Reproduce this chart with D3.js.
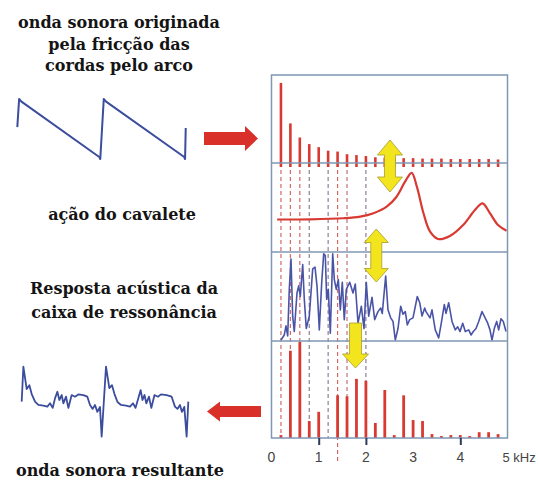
<!DOCTYPE html>
<html>
<head>
<meta charset="utf-8">
<script src="https://cdn.jsdelivr.net/npm/d3@7"></script>
<style>
  html, body { margin: 0; padding: 0; background: #fff; }
  svg { display: block; }
</style>
</head>
<body>
<svg id="chart" width="538" height="490"></svg>
<script>
// Harmonic frequencies of the bowed string (kHz), fundamental at 200 Hz
const harmonicKHz = [0.2, 0.4, 0.6, 0.8, 1.0, 1.2, 1.4, 1.6, 1.8, 2.0, 2.2, 2.4,
                     2.6, 2.8, 3.0, 3.2, 3.4, 3.6, 3.8, 4.0, 4.2, 4.4, 4.6, 4.8];

// Spectrum of the string force (relative amplitude, %)
const stringSpectrum = [91, 45, 29, 21.5, 18, 14, 13, 10, 9, 8, 6.5, 6,
                        5.5, 5.5, 5.5, 5, 5, 5, 4.5, 4.5, 4.5, 4.5, 4.5, 4];

// Bridge response (frequency kHz, relative level %)
const bridgeKHz   = [0.12, 0.82, 1.52, 1.88, 2.16, 2.44, 2.65, 2.83, 2.97, 3.08,
                     3.22, 3.36, 3.53, 3.78, 4.06, 4.31, 4.47, 4.63, 4.80, 4.98];
const bridgeLevel = [36.5, 36.7, 37.9, 39.7, 43.5, 50.9, 62.1, 79, 89, 73.4,
                     43.5, 22.8, 14.6, 18, 30.3, 47.2, 54.7, 43.5, 30.3, 23.9];

// Acoustic response of the sound box (frequency kHz, relative level %)
const bodyKHz = [0.201, 0.271, 0.307, 0.343, 0.377, 0.413, 0.449, 0.483, 0.540, 0.576,
                 0.610, 0.661, 0.695, 0.737, 0.801, 0.873, 0.922, 0.964, 1.013, 1.064,
                 1.106, 1.140, 1.169, 1.203, 1.246, 1.297, 1.331, 1.373, 1.415, 1.458,
                 1.500, 1.542, 1.585, 1.657, 1.727, 1.775, 1.833, 1.903, 1.960, 2.008,
                 2.059, 2.129, 2.186, 2.256, 2.314, 2.347, 2.419, 2.468, 2.525, 2.574,
                 2.623, 2.680, 2.737, 2.786, 2.835, 2.877, 2.928, 2.998, 3.089, 3.140,
                 3.189, 3.246, 3.273, 3.358, 3.400, 3.470, 3.542, 3.591, 3.661, 3.697,
                 3.754, 3.824, 3.894, 3.945, 3.994, 4.051, 4.106, 4.178, 4.227, 4.275,
                 4.333, 4.390, 4.460, 4.508, 4.581, 4.629, 4.672, 4.720, 4.771, 4.813,
                 4.862, 4.911, 4.968];
const bodyLevel = [1.1, 6.8, 17, 5.7, 58, 92, 27.6, 10.6, 54, 62,
                   50, 86, 47, 14, 28, 81, 83, 62, 12.5, 66,
                   98, 96, 47, 58, 8.8, 98, 69, 58, 69, 35,
                   66, 24, 58, 66, 54, 64, 20, 39, 14, 66,
                   28, 49, 24, 33, 37, 31, 73, 35, 26, 22,
                   1, 14, 39, 30, 33, 18, 24, 26, 50, 43,
                   28, 37, 33, 26, 35, 12.5, 3.4, 18, 41, 31,
                   43, 22, 12.5, 16, 10.6, 20, 10.6, 12.5, 6.8, 10.6,
                   14, 22, 33, 28, 20, 12.5, 1, 14, 22, 12.5,
                   25, 22, 10.6];

// Spectrum of the radiated sound (relative amplitude, %)
const outputSpectrum = [3, 90, 99, 17.5, 27, 0, 44, 43, 61, 59, 15.5, 49.5,
                        3, 44, 18.5, 17.5, 4, 2, 3, 3, 2, 6, 6, 4];

// Harmonics marked with dashed guide lines, and their colours
const guideKHz   = [0.2, 0.4, 0.6, 0.8, 1.2, 1.4, 1.6, 2.0];
const guideColor = ["#d0504a", "#d0504a", "#d0504a", "#7d6a86", "#7d6a86", "#d0504a", "#b0606a", "#7d6a86"];

// Frequency axis labels and tick marks
const tickKHz = [0, 1, 2, 3, 4, 5];
const tickText = ["0", "1", "2", "3", "4", "5 kHz"];
const tickMarkKHz = [1, 2, 4];

// Bowed string wave: time (ms), normalised displacement
const sawTime = [0, 0.11, 0.25, 4.92, 4.98, 5.19, 5.33, 10.02, 10.07, 10.11];
const sawAmp  = [0.03, 1.0, 0.91, -1.0, -1.07, 1.0, 0.91, -1.0, -1.07, 0];

// Resulting sound wave: time (ms), normalised pressure
const outTime = [0, 0.10, 0.30, 0.46, 0.60, 0.80, 1.00, 1.30, 1.54, 1.70,
                 1.86, 2.00, 2.14, 2.26, 2.40, 2.50, 2.66, 2.80, 3.00, 3.20,
                 3.40, 3.70, 3.94, 4.10, 4.26, 4.40, 4.54, 4.70, 4.80,
                 5.06, 5.26, 5.42, 5.57, 5.75, 5.96, 6.26, 6.50, 6.68, 6.83,
                 7.00, 7.14, 7.25, 7.37, 7.48, 7.64, 7.78, 7.97, 8.18, 8.36,
                 8.70, 9.00, 9.20, 9.35, 9.50, 9.62, 9.76, 9.90, 10.00];
const outAmp  = [-0.05, 1.01, 0.33, 0.45, 0.18, -0.05, -0.15, -0.17, -0.20, -0.10,
                 -0.24, 0.05, 0.25, 0, 0.15, -0.10, 0.10, -0.24, 0.15, 0.10,
                 0.17, 0.15, 0.10, -0.15, -0.27, -0.15, -0.36, -0.21, -1.11,
                 1.01, 0.36, 0.45, 0.18, -0.06, -0.15, -0.17, -0.20, -0.10, -0.24,
                 0.05, 0.30, 0, 0.15, -0.10, 0.10, -0.24, 0.15, 0.10, 0.17,
                 0.15, 0.10, -0.20, -0.27, -0.15, -0.36, -0.21, -1.11, -0.05];

const svg = d3.select("#chart");

// ---------- frequency panels ----------
const frame = { left: 271.5, right: 507.5, top: 75, bottom: 438 };
const x = d3.scaleLinear().domain([0, 5]).range([frame.left, frame.right]);
const panelEdges = [75, 163, 252, 341, 438];
const yPanel = panelEdges.slice(0, 4).map((top, i) =>
  d3.scaleLinear().domain([0, 100]).range([panelEdges[i + 1], top]));

const boxColor = "#7f97b4";
const red = "#d83a32";

// dashed guide lines through the middle panels
const guides = svg.append("g").attr("class", "guides");
guideKHz.forEach((f, i) => {
  guides.append("line")
    .attr("x1", x(f)).attr("x2", x(f))
    .attr("y1", panelEdges[1]).attr("y2", f === 1.4 ? 462 : panelEdges[4])
    .attr("stroke", guideColor[i]).attr("stroke-width", 1.2)
    .attr("stroke-dasharray", "4,3").attr("opacity", 0.85);
});

// string spectrum bars
svg.append("g").selectAll("line").data(harmonicKHz).join("line")
  .attr("x1", d => x(d)).attr("x2", d => x(d))
  .attr("y1", yPanel[0](0) + 4)
  .attr("y2", (d, i) => yPanel[0](stringSpectrum[i]))
  .attr("stroke", red).attr("stroke-width", 2.6);

// bridge response curve
const bridgeLine = d3.line()
  .x((d, i) => x(bridgeKHz[i]))
  .y((d, i) => yPanel[1](bridgeLevel[i]))
  .curve(d3.curveCatmullRom.alpha(0.5));
svg.append("path").datum(bridgeKHz).attr("d", bridgeLine)
  .attr("fill", "none").attr("stroke", red).attr("stroke-width", 2.2);

// sound box response
const bodyLine = d3.line()
  .x((d, i) => x(bodyKHz[i]))
  .y((d, i) => yPanel[2](bodyLevel[i]));
svg.append("path").datum(bodyKHz).attr("d", bodyLine)
  .attr("fill", "none").attr("stroke", "#4a54a6").attr("stroke-width", 1.6)
  .attr("stroke-linejoin", "round");

// output spectrum bars
svg.append("g").selectAll("line").data(harmonicKHz).join("line")
  .attr("x1", d => x(d)).attr("x2", d => x(d))
  .attr("y1", yPanel[3](0))
  .attr("y2", (d, i) => yPanel[3](outputSpectrum[i]))
  .attr("stroke", red).attr("stroke-width", 2.8);

// frame and panel separators
svg.append("rect")
  .attr("x", frame.left).attr("y", frame.top)
  .attr("width", frame.right - frame.left).attr("height", frame.bottom - frame.top)
  .attr("fill", "none").attr("stroke", boxColor).attr("stroke-width", 1.5);
svg.append("g").selectAll("line").data(panelEdges.slice(1, 4)).join("line")
  .attr("x1", frame.left).attr("x2", frame.right)
  .attr("y1", d => d).attr("y2", d => d)
  .attr("stroke", boxColor).attr("stroke-width", 1.5);

// frequency axis
const axis = d3.axisBottom(x).tickValues(tickMarkKHz).tickSize(7).tickFormat("");
const axisG = svg.append("g").attr("transform", `translate(0,${frame.bottom})`).call(axis);
axisG.select(".domain").remove();
axisG.selectAll(".tick line").attr("stroke", "#2d3a5a").attr("stroke-width", 2);
svg.append("g").selectAll("text").data(tickKHz).join("text")
  .attr("x", (d, i) => i === 5 ? x(d) - 5 : x(d))
  .attr("y", 462)
  .attr("text-anchor", (d, i) => i === 5 ? "start" : "middle")
  .attr("font-family", "Liberation Sans, Arial, sans-serif")
  .attr("font-size", (d, i) => i === 5 ? 13 : 14)
  .attr("fill", "#444")
  .text((d, i) => tickText[i]);

// ---------- yellow arrows between panels ----------
function doubleArrow(cx, top, bottom, shaft, head, headLen) {
  const p = d3.path();
  p.moveTo(cx, top);
  p.lineTo(cx + head, top + headLen);
  p.lineTo(cx + shaft, top + headLen);
  p.lineTo(cx + shaft, bottom - headLen);
  p.lineTo(cx + head, bottom - headLen);
  p.lineTo(cx, bottom);
  p.lineTo(cx - head, bottom - headLen);
  p.lineTo(cx - shaft, bottom - headLen);
  p.lineTo(cx - shaft, top + headLen);
  p.lineTo(cx - head, top + headLen);
  p.closePath();
  return p.toString();
}
function downArrow(cx, top, bottom, shaft, head, headLen) {
  const p = d3.path();
  p.moveTo(cx - shaft, top);
  p.lineTo(cx + shaft, top);
  p.lineTo(cx + shaft, bottom - headLen);
  p.lineTo(cx + head, bottom - headLen);
  p.lineTo(cx, bottom);
  p.lineTo(cx - head, bottom - headLen);
  p.lineTo(cx - shaft, bottom - headLen);
  p.closePath();
  return p.toString();
}
const yellow = svg.append("g")
  .attr("fill", "#f3e51d").attr("stroke", "#a89c2c").attr("stroke-width", 0.8);
yellow.append("path").attr("d", doubleArrow(x(2.51), 140, 192, 5.5, 12.5, 15));
yellow.append("path").attr("d", doubleArrow(x(2.22), 229, 282, 5.5, 12, 13.5));
yellow.append("path").attr("d", downArrow(x(1.78), 323, 368, 6, 13, 14));

// ---------- red arrows ----------
const redArrows = svg.append("g").attr("fill", "#d9302a");
redArrows.append("path")
  .attr("d", "M204,132 L245,132 L245,126 L258,138.5 L245,151 L245,145 L204,145 Z");
redArrows.append("path")
  .attr("d", "M261,406 L220,406 L220,401.5 L207,411.5 L220,421.5 L220,417 L261,417 Z");

// ---------- time waveforms ----------
const waveColor = "#3c4d9e";
const xSaw = d3.scaleLinear().domain([0, 10]).range([17.3, 183.9]);
const ySaw = d3.scaleLinear().domain([-1, 1]).range([157, 99]);
svg.append("path").datum(sawTime)
  .attr("d", d3.line().x((d, i) => xSaw(sawTime[i])).y((d, i) => ySaw(sawAmp[i])))
  .attr("fill", "none").attr("stroke", waveColor).attr("stroke-width", 2)
  .attr("stroke-linejoin", "round");

const xOut = d3.scaleLinear().domain([0, 10]).range([21.7, 188.3]);
const yOut = d3.scaleLinear().domain([-1, 1]).range([433, 367]);
svg.append("path").datum(outTime)
  .attr("d", d3.line().x((d, i) => xOut(outTime[i])).y((d, i) => yOut(outAmp[i])))
  .attr("fill", "none").attr("stroke", waveColor).attr("stroke-width", 1.8)
  .attr("stroke-linejoin", "round");

// ---------- captions ----------
const captions = [
  { lines: ["onda sonora originada", "pela fricção das", "cordas pelo arco"], x: 119, y: 28 },
  { lines: ["ação do cavalete"], x: 122, y: 220 },
  { lines: ["Resposta acústica da", "caixa de ressonância"], x: 124, y: 294 },
  { lines: ["onda sonora resultante"], x: 120, y: 476 }
];
captions.forEach(c => {
  const t = svg.append("text")
    .attr("text-anchor", "middle")
    .attr("font-family", "DejaVu Serif, serif")
    .attr("font-weight", "bold")
    .attr("font-size", 16)
    .attr("fill", "#141414");
  c.lines.forEach((line, i) => {
    t.append("tspan").attr("x", c.x).attr("y", c.y + i * (c.lines.length === 3 ? 21.5 : 24)).text(line);
  });
});
</script>
</body>
</html>
